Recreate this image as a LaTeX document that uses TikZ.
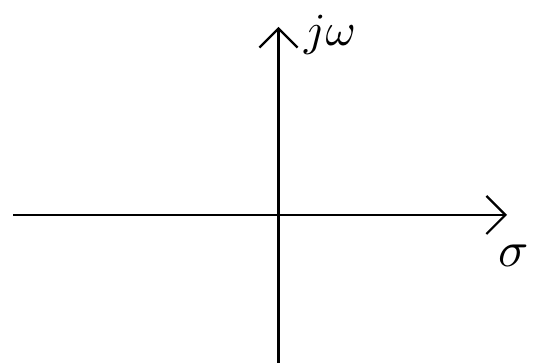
\documentclass[tikz,border=0pt]{standalone}
\usepackage{amsmath,amssymb}
\usepackage{graphicx}
\usepackage{tikz}
\usetikzlibrary{arrows.meta,positioning,calc}
\definecolor{ink}{HTML}{000000}
\newcommand{\biglbl}[1]{\scalebox{5}{#1}}
\tikzset{
  axis/.style={-{Straight Barb[length=19pt,width=38pt,line width=2.2pt]},line width=2.2pt,draw=ink},
  lbl/.style={text=ink,inner sep=0pt}
}
\begin{document}
\begin{tikzpicture}[x=1pt,y=1pt]
    \useasboundingbox (0,0) rectangle (539,363);
    \coordinate (left) at (13,148);
    \coordinate (right) at (507,148);
    \coordinate (bottom) at (278.5,0);
    \coordinate (top) at (278.5,336);
    \draw[axis] (left) -- (right);
    \draw[axis] (bottom) -- (top);
    \node[lbl,scale=0.92] (jw) at (330,328) {\biglbl{$j\omega$}};
    \node[lbl] (sigma) at (514,107) {\biglbl{$\sigma$}};
  \end{tikzpicture}
\end{document}
